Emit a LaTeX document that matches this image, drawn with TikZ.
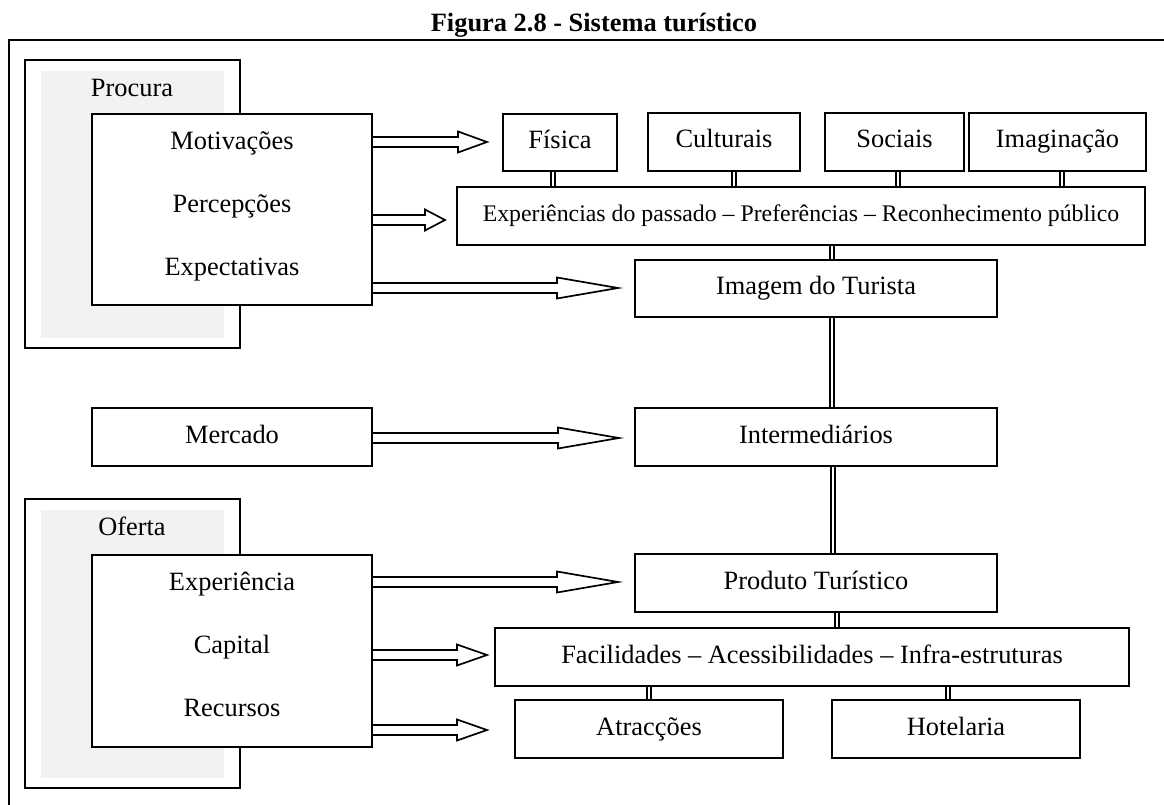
\documentclass[tikz,border=0pt]{standalone}
\usepackage{fontspec}
\setmainfont{Liberation Serif}
\usetikzlibrary{calc}
\pgfdeclarelayer{bg}
\pgfsetlayers{bg,main}
\definecolor{panelgray}{HTML}{F2F2F2}

% box from (x1,y1) to (x2,y2), y growing downwards
\newcommand\bx[7][]{\node[box,#1, minimum width={(#5)-(#3)}, minimum height={(#6)-(#4)}]
  (#2) at ({((#3)+(#5))/2},{((#4)+(#6))/2}) {#7};}
% hollow block arrow: start coordinate, tip coordinate, head length
\newcommand\blockarrow[3]{\draw[arrowline] let \p1=(#1), \p2=(#2) in
  (\x1,\y1+5) -- (\x2-#3,\y1+5) -- (\x2-#3,\y1+10.5) -- (\x2,\y1)
  -- (\x2-#3,\y1-10.5) -- (\x2-#3,\y1-5) -- (\x1,\y1-5);}

\begin{document}
\begin{tikzpicture}[x=1pt,y=-1pt,
  every node/.style={font=\fontsize{26.4}{30}\selectfont, inner sep=0pt},
  box/.style={draw, fill=white, line width=1.8pt, text height=18pt, text depth=6pt},
  panel/.style={draw, fill=white, line width=1.8pt},
  shade/.style={fill=panelgray, draw=none},
  item/.style={anchor=base},
  dbl/.style={double=white, double distance=2.4pt, line width=1.6pt},
  arrowline/.style={line width=1.7pt, line join=miter}]
\useasboundingbox (0,0) rectangle (1164,805);

\node[anchor=base, font=\fontsize{26.4}{30}\selectfont\bfseries] (title) at (594,32)
  {Figura 2.8 - Sistema turístico};
\draw[line width=1.8pt] (1164,40) coordinate (frameR) -- (9,40) coordinate (frameTL) -- (9,805) coordinate (frameB);

% demand panel
\bx[panel]{procout}{25}{60}{240}{348}{}
\bx[shade]{procshade}{41}{71}{224}{338}{}
\node[item] (proclbl) at (132,97) {Procura};
\bx[panel]{procin}{92}{114}{372}{305}{}
\node[item] (motiv) at (232,150) {Motivações};
\node[item] (percep) at (232,212) {Percepções};
\node[item] (expect) at (232,275) {Expectativas};

% supply panel
\bx[panel]{ofout}{25}{499}{240}{788}{}
\bx[shade]{ofshade}{41}{510}{224}{778}{}
\node[item] (oflbl) at (132,535) {Oferta};
\bx[panel]{ofin}{92}{555}{372}{747}{}
\node[item] (experi) at (232,590) {Experiência};
\node[item] (capital) at (232,653) {Capital};
\node[item] (recursos) at (232,716) {Recursos};

% top row
\bx{fisica}{503}{114}{617}{171}{Física}
\bx{culturais}{648}{113}{800}{171}{Culturais}
\bx{sociais}{825}{113}{964}{171}{Sociais}
\bx{imaginacao}{969}{113}{1146}{171}{Imaginação}
\bx[font=\fontsize{23.8}{28}\selectfont]{passado}{457}{187}{1145}{245}{Experiências do passado – Preferências – Reconhecimento público}

% central column
\bx{imagem}{635}{260}{997}{317}{Imagem do Turista}
\bx{mercado}{92}{408}{372}{466}{Mercado}
\bx{interm}{635}{408}{997}{466}{Intermediários}
\bx{produto}{635}{554}{997}{612}{Produto Turístico}
\bx{facil}{495}{628}{1129}{686}{Facilidades – Acessibilidades – Infra-estruturas}
\bx{atrac}{515}{700}{783}{758}{Atracções}
\bx{hotel}{832}{700}{1080}{758}{Hotelaria}

% double-line links, kept behind the boxes
\begin{pgfonlayer}{bg}
\draw[dbl] ([xshift=-7pt]fisica.center) -- ([xshift=-7pt]fisica.center |- passado.center);
\draw[dbl] ([xshift=10pt]culturais.center) -- ([xshift=10pt]culturais.center |- passado.center);
\draw[dbl] ([xshift=3.5pt]sociais.center) -- ([xshift=3.5pt]sociais.center |- passado.center);
\draw[dbl] ([xshift=4.5pt]imaginacao.center) -- ([xshift=4.5pt]imaginacao.center |- passado.center);
\draw[dbl] ([xshift=16pt]imagem.center) -- ([xshift=16pt]imagem.center |- passado.center);
\draw[dbl] ([xshift=16pt]imagem.center) -- ([xshift=16pt]imagem.center |- interm.center);
\draw[dbl] ([xshift=17pt]interm.center) -- ([xshift=17pt]interm.center |- produto.center);
\draw[dbl] ([xshift=21pt]produto.center) -- ([xshift=21pt]produto.center |- facil.center);
\draw[dbl] (atrac.center) -- (atrac.center |- facil.center);
\draw[dbl] ([xshift=-8pt]hotel.center) -- ([xshift=-8pt]hotel.center |- facil.center);
\end{pgfonlayer}

% block arrows
\coordinate (a1s) at (372,142); \coordinate (a1t) at (487,142);
\coordinate (a2s) at (372,220); \coordinate (a2t) at (445,220);
\coordinate (a3s) at (372,288); \coordinate (a3t) at (618,288);
\coordinate (a4s) at (372,438); \coordinate (a4t) at (619,438);
\coordinate (a5s) at (372,582); \coordinate (a5t) at (618,582);
\coordinate (a6s) at (372,655); \coordinate (a6t) at (487,655);
\coordinate (a7s) at (372,730); \coordinate (a7t) at (487,730);
\blockarrow{a1s}{a1t}{29}
\blockarrow{a2s}{a2t}{20}
\blockarrow{a3s}{a3t}{61}
\blockarrow{a4s}{a4t}{61}
\blockarrow{a5s}{a5t}{61}
\blockarrow{a6s}{a6t}{30}
\blockarrow{a7s}{a7t}{30}
\end{tikzpicture}
\end{document}
